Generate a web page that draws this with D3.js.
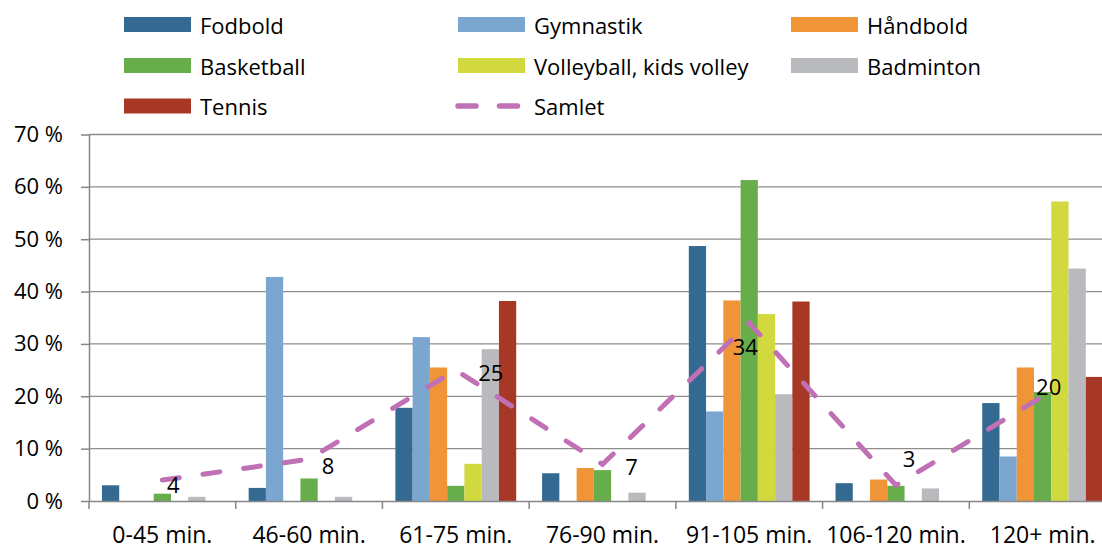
<!DOCTYPE html>
<html>
<head>
<meta charset="utf-8">
<script src="https://cdn.jsdelivr.net/npm/d3@7"></script>
<style>
  html, body { margin: 0; padding: 0; background: #fff; }
  svg text { font-family: "Open Sans", sans-serif; fill: #000; }
</style>
</head>
<body>
<div id="chart"></div>
<script>
const categories = ['0-45 min.', '46-60 min.', '61-75 min.', '76-90 min.', '91-105 min.', '106-120 min.', '120+ min.'];
const sports = ['Fodbold', 'Gymnastik', 'Håndbold', 'Basketball', 'Volleyball, kids volley', 'Badminton', 'Tennis'];

// percent per sport, one value per time category
const fodbold    = [3.0, 2.5, 17.8, 5.3, 48.7, 3.4, 18.7];
const gymnastik  = [0, 42.8, 31.3, 0, 17.1, 0, 8.5];
const haandbold  = [0, 0, 25.5, 6.3, 38.3, 4.1, 25.5];
const basketball = [1.4, 4.3, 2.9, 5.9, 61.3, 2.9, 20.8];
const volleyball = [0, 0, 7.1, 0, 35.7, 0, 57.2];
const badminton  = [0.8, 0.8, 29.0, 1.6, 20.4, 2.4, 44.4];
const tennis     = [0, 0, 38.2, 0, 38.1, 0, 23.7];
const samlet     = [4, 8, 25, 7, 34, 3, 20];

const yTicks = [0, 10, 20, 30, 40, 50, 60, 70];

const seriesValues = [fodbold, gymnastik, haandbold, basketball, volleyball, badminton, tennis];
const colors = ['#346a92', '#7aa6cf', '#ef9537', '#68ad4b', '#d1d93e', '#b9babe', '#a83826'];
const lineColor = '#c070b4';

// nudges for the Samlet data labels (px, relative to the point)
const labelNudge = [[11, 4], [19, 6], [35, 2], [29, 2], [-4, 23], [13, -27], [6, -10]];

const w = 1102, h = 547;

const svg = d3.select('#chart')
    .append('svg')
    .attr('width', w)
    .attr('height', h);

const x0 = d3.scaleBand()
    .domain(categories)
    .range([89, 1116])
    .padding(0);

const x1 = d3.scaleBand()
    .domain(sports)
    .range([0, x0.bandwidth()])
    .paddingInner(0)
    .paddingOuter(0.75);

const y = d3.scaleLinear()
    .domain([0, 70])
    .range([501, 134.5]);

// gridlines
svg.append('g')
    .selectAll('line')
    .data(yTicks.filter(d => d > 0))
    .enter()
    .append('line')
    .attr('x1', x0.range()[0])
    .attr('x2', x0.range()[1])
    .attr('y1', d => y(d))
    .attr('y2', d => y(d))
    .attr('stroke', '#8e8e8e')
    .attr('stroke-width', 1.3);

// bars
const rows = categories.map((c, i) => ({cat: c, vals: seriesValues.map(s => s[i])}));

svg.append('g')
    .selectAll('g')
    .data(rows)
    .enter()
    .append('g')
    .attr('transform', d => `translate(${x0(d.cat)},0)`)
    .selectAll('rect')
    .data(d => d.vals.map((v, j) => ({sport: sports[j], v: v, j: j})))
    .enter()
    .append('rect')
    .attr('x', d => x1(d.sport))
    .attr('width', x1.bandwidth())
    .attr('y', d => y(d.v))
    .attr('height', d => y(0) - y(d.v))
    .attr('fill', d => colors[d.j]);

// y axis
const yAxis = d3.axisLeft(y)
    .tickValues(yTicks)
    .tickFormat(d => d + ' %')
    .tickSize(8)
    .tickSizeOuter(0)
    .tickPadding(18);

const yg = svg.append('g')
    .attr('transform', `translate(${x0.range()[0]},0)`)
    .call(yAxis);
yg.selectAll('path, line').attr('stroke', '#868686').attr('stroke-width', 1.5);
yg.selectAll('text').style('font-size', '22px').style('font-family', '"Open Sans", sans-serif').attr('fill', '#000');

// x axis
const xAxis = d3.axisBottom(x0)
    .tickSize(0)
    .tickSizeOuter(0)
    .tickPadding(26);

const xg = svg.append('g')
    .attr('transform', `translate(0,${y(0)})`)
    .call(xAxis);
xg.select('path').attr('stroke', '#868686').attr('stroke-width', 1.5);
xg.selectAll('text').style('font-size', '23px').style('font-family', '"Open Sans", sans-serif').attr('fill', '#000');

// category boundary ticks
svg.append('g')
    .selectAll('line')
    .data(categories.map(c => x0(c)).concat([x0.range()[1]]))
    .enter()
    .append('line')
    .attr('x1', d => d)
    .attr('x2', d => d)
    .attr('y1', y(0))
    .attr('y2', y(0) + 8)
    .attr('stroke', '#868686')
    .attr('stroke-width', 1.5);

// Samlet line
const line = d3.line()
    .x((d, i) => x0(categories[i]) + x0.bandwidth() / 2)
    .y(d => y(d));

svg.append('path')
    .datum(samlet)
    .attr('d', line)
    .attr('fill', 'none')
    .attr('stroke', lineColor)
    .attr('stroke-width', 5)
    .attr('stroke-linecap', 'round')
    .attr('stroke-dasharray', '17 24');

svg.append('g')
    .selectAll('text')
    .data(samlet)
    .enter()
    .append('text')
    .attr('x', (d, i) => x0(categories[i]) + x0.bandwidth() / 2 + labelNudge[i][0])
    .attr('y', (d, i) => y(d) + labelNudge[i][1])
    .attr('text-anchor', 'middle')
    .attr('dominant-baseline', 'central')
    .style('font-size', '22px')
    .text(d => d);

// legend
const colX = [124, 458, 791];
const rowY = [24.5, 65.5, 106];
const legendItems = sports.map((s, i) => ({name: s, color: colors[i], type: 'bar'}))
    .concat([{name: 'Samlet', color: lineColor, type: 'line'}]);

const legend = svg.append('g')
    .selectAll('g')
    .data(legendItems)
    .enter()
    .append('g')
    .attr('transform', (d, i) => `translate(${colX[i % 3]},${rowY[Math.floor(i / 3)]})`);

legend.filter(d => d.type === 'bar')
    .append('rect')
    .attr('x', 0)
    .attr('y', -7.5)
    .attr('width', 67)
    .attr('height', 15)
    .attr('fill', d => d.color);

legend.filter(d => d.type === 'line')
    .append('line')
    .attr('x1', 0)
    .attr('x2', 62)
    .attr('y1', 0)
    .attr('y2', 0)
    .attr('stroke', d => d.color)
    .attr('stroke-width', 5.5)
    .attr('stroke-linecap', 'round')
    .attr('stroke-dasharray', '18 23.5');

legend.append('text')
    .attr('x', 76)
    .attr('y', 0)
    .attr('dominant-baseline', 'central')
    .style('font-size', '22px')
    .text(d => d.name);
</script>
</body>
</html>
